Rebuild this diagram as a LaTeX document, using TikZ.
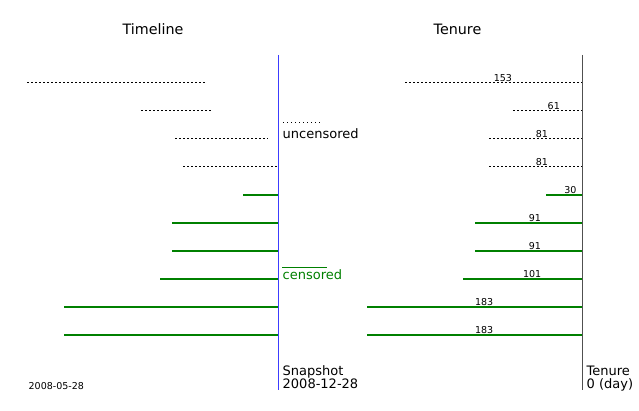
\documentclass[tikz,border=0pt]{standalone}
\usepackage{fontspec}
\setmainfont{DejaVu Sans}
\definecolor{mplgreen}{RGB}{0,128,0}
\definecolor{axisblue}{RGB}{60,60,255}
\definecolor{axisgray}{RGB}{80,80,80}
\begin{document}
\begin{tikzpicture}[x=1pt,y=-1pt,
  dotline/.style={line width=1.8pt,dash pattern=on 1.5pt off 2.5pt},
  cenline/.style={line width=2pt,mplgreen},
  titletext/.style={font=\fontsize{14.3}{16}\selectfont,inner sep=0pt},
  bigtext/.style={font=\fontsize{13}{15}\selectfont,inner sep=0pt},
  smalltext/.style={font=\fontsize{9.5}{11}\selectfont,inner sep=0pt,anchor=base west},
  ]
\useasboundingbox (0,0) rectangle (639,411);
% titles
\node[titletext,anchor=base] (t1) at (153,35) {Timeline};
\node[titletext,anchor=base] (t2) at (457.5,35) {Tenure};
% axes
\draw[axisblue,line width=1pt] (278.3,55) -- (278.3,389.5);
\draw[axisgray,line width=1pt] (582.3,55) -- (582.3,389.5);
% left: uncensored
\draw[dotline] (27,82.5) -- (205,82.5);
\draw[dotline] (141,110.5) -- (211,110.5);
\draw[dotline] (175,138.5) -- (268,138.5);
\draw[dotline] (183,166.5) -- (277,166.5);
% left: censored
\draw[cenline] (243,194.7) -- (278.3,194.7);
\draw[cenline] (172.3,222.7) -- (278.3,222.7);
\draw[cenline] (172.3,250.7) -- (278.3,250.7);
\draw[cenline] (160,278.7) -- (278.3,278.7);
\draw[cenline] (64,306.7) -- (278.3,306.7);
\draw[cenline] (64,334.7) -- (278.3,334.7);
% legend
\draw[line width=1pt,dash pattern=on 1pt off 3pt] (283,122.5) -- (323,122.5);
\node[bigtext,anchor=base west] (unc) at (282.5,139) {uncensored};
\draw[mplgreen,line width=1pt] (282.3,267.3) -- (327.3,267.3);
\node[bigtext,anchor=base west,text=mplgreen] (cen) at (282.5,279.3) {censored};
% bottom labels
\node[bigtext,anchor=base west] (snap) at (282.5,375.3) {Snapshot};
\node[bigtext,anchor=base west] (snapd) at (282.5,388.3) {2008-12-28};
\node[bigtext,anchor=base west] (ten) at (586.5,375.3) {Tenure};
\node[bigtext,anchor=base west] (tend) at (586.5,388.3) {0 (day)};
\node[smalltext] (start) at (28.5,389.3) {2008-05-28};
% right: uncensored
\draw[dotline] (405,82.5) -- (582,82.5);
\node[smalltext] (n1) at (493.6,81.2) {153};
\draw[dotline] (513,110.5) -- (582,110.5);
\node[smalltext] (n2) at (547.5,109.2) {61};
\draw[dotline] (489,138.5) -- (582,138.5);
\node[smalltext] (n3) at (535.6,137.2) {81};
\draw[dotline] (489,166.5) -- (582,166.5);
\node[smalltext] (n4) at (535.6,165.2) {81};
% right: censored
\draw[cenline] (546,194.7) -- (582.3,194.7);
\node[smalltext] (n5) at (564.2,193.2) {30};
\draw[cenline] (475,222.7) -- (582.3,222.7);
\node[smalltext] (n6) at (528.6,221.2) {91};
\draw[cenline] (475,250.7) -- (582.3,250.7);
\node[smalltext] (n7) at (528.6,249.2) {91};
\draw[cenline] (463.3,278.7) -- (582.3,278.7);
\node[smalltext] (n8) at (522.8,277.2) {101};
\draw[cenline] (367.3,306.7) -- (582.3,306.7);
\node[smalltext] (n9) at (474.8,305.2) {183};
\draw[cenline] (367.3,334.7) -- (582.3,334.7);
\node[smalltext] (n10) at (474.8,333.2) {183};
\end{tikzpicture}
\end{document}
